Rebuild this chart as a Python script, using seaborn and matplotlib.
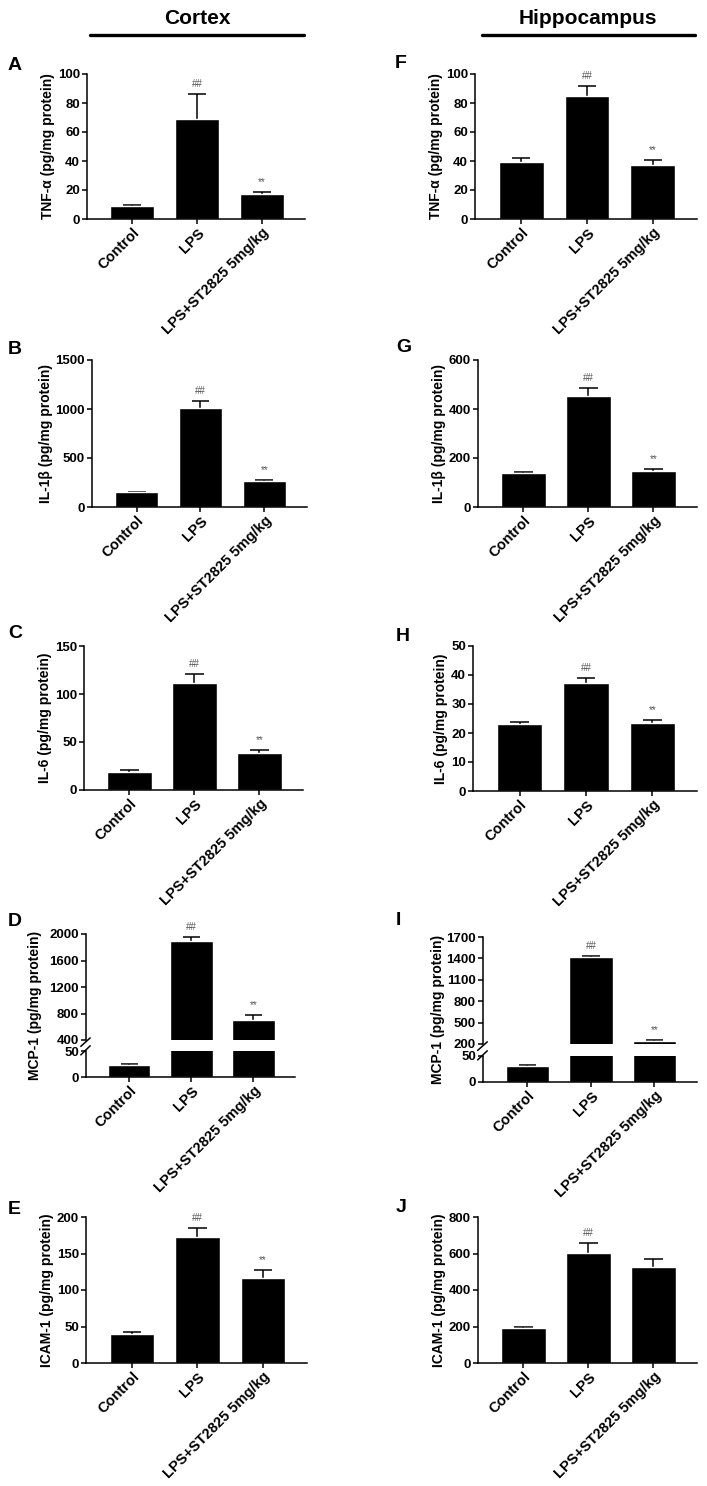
import numpy as np
import matplotlib
matplotlib.use("Agg")
import matplotlib.pyplot as plt
from matplotlib.lines import Line2D
import seaborn as sns

# Figure settings
W_PX, H_PX = 707, 1486
FIG_DPI = 100
TICK_FONTSIZE = 9.5
XTICK_FONTSIZE = 10.5
LABEL_FONTSIZE = 10
LETTER_FONTSIZE = 14
TITLE_FONTSIZE = 15
BAR_WIDTH = 0.68
CAP_HALF = 0.14
LINE_W = 1.1

GROUPS = ["Control", "LPS", "LPS+ST2825 5mg/kg"]

# Cortex: mean and SEM (pg/mg protein)
CTX_TNF = [9, 69, 17.5]
CTX_TNF_SEM = [1, 17, 1]
CTX_IL1B = [150, 1012, 262]
CTX_IL1B_SEM = [6, 72, 18]
CTX_IL6 = [19, 111, 39]
CTX_IL6_SEM = [1.5, 10, 3]
CTX_MCP1 = [24, 1900, 697]
CTX_MCP1_SEM = [1, 60, 85]
CTX_ICAM1 = [40, 173, 117]
CTX_ICAM1_SEM = [3, 12, 10]

# Hippocampus
HIP_TNF = [39, 85, 37.5]
HIP_TNF_SEM = [3, 7, 3]
HIP_IL1B = [140, 455, 145]
HIP_IL1B_SEM = [4, 32, 9]
HIP_IL6 = [23, 37.4, 23.3]
HIP_IL6_SEM = [0.9, 1.6, 1.2]
HIP_MCP1 = [31, 1420, 245]
HIP_MCP1_SEM = [1, 10, 15]
HIP_ICAM1 = [190, 603, 525]
HIP_ICAM1_SEM = [6, 57, 45]

# significance marks above each bar
MARKS = ["", "##", "**"]
MARKS_NO_STAR = ["", "##", ""]

sns.set_style("ticks")
plt.rcParams["font.family"] = ["Liberation Sans", "DejaVu Sans"]
plt.rcParams["font.weight"] = "bold"
plt.rcParams["axes.labelweight"] = "bold"
for key in ["text.color", "axes.labelcolor", "xtick.color", "ytick.color",
            "axes.edgecolor"]:
    plt.rcParams[key] = "black"


def px_axes(fig, left, top, right, bottom):
    """Add axes placed with pixel coordinates (origin top-left)."""
    return fig.add_axes([left / W_PX, 1 - bottom / H_PX,
                         (right - left) / W_PX, (bottom - top) / H_PX])


def style_axes(ax):
    sns.despine(ax=ax)
    for side in ["left", "bottom"]:
        ax.spines[side].set_linewidth(LINE_W)
    ax.tick_params(direction="out", length=3.5, width=LINE_W, pad=1.5,
                   colors="black")
    ax.tick_params(axis="y", labelsize=TICK_FONTSIZE)
    for lab in ax.get_yticklabels():
        lab.set_fontweight("bold")


def draw_bars(ax, means, sems, marks):
    sns.barplot(x=GROUPS, y=means, color="black", saturation=1,
                width=BAR_WIDTH, errorbar=None, ax=ax, zorder=2)
    # upper SEM only: stem + top cap
    x = np.arange(len(means))
    top = np.asarray(means) + np.asarray(sems)
    ax.vlines(x, means, top, color="black", lw=LINE_W, zorder=1)
    ax.hlines(top, x - CAP_HALF, x + CAP_HALF, color="black", lw=LINE_W,
              zorder=1)
    for i, (t, mark) in enumerate(zip(top, marks)):
        if mark:
            ax.annotate(mark, (i, t), xytext=(0, 3.5),
                        textcoords="offset points", ha="center", va="bottom",
                        fontsize=7, color="#555555", fontweight="normal",
                        annotation_clip=True)
    ax.set_xlim(-0.7, 2.67)


def set_xlabels(ax):
    ax.set_xticks(range(len(GROUPS)))
    ax.set_xticklabels(GROUPS, rotation=45, ha="right", va="top",
                       rotation_mode="anchor", fontsize=XTICK_FONTSIZE,
                       fontweight="bold")


def simple_panel(fig, box, means, sems, marks, ylim, yticks, ylabel):
    ax = px_axes(fig, *box)
    draw_bars(ax, means, sems, marks)
    ax.set_ylim(*ylim)
    ax.set_yticks(yticks)
    set_xlabels(ax)
    ax.set_ylabel(ylabel, fontsize=LABEL_FONTSIZE, fontweight="bold",
                  labelpad=2)
    style_axes(ax)
    return ax


def broken_panel(fig, box_top, box_low, means, sems, marks,
                 ylim_top, yticks_top, ylim_low, yticks_low, ylabel, label_x):
    ax_top = px_axes(fig, *box_top)
    ax_low = px_axes(fig, *box_low)
    for ax in (ax_top, ax_low):
        draw_bars(ax, means, sems, marks)
        style_axes(ax)
    ax_top.set_ylim(*ylim_top)
    ax_top.set_yticks(yticks_top)
    ax_top.spines["bottom"].set_visible(False)
    ax_top.set_xticks([])
    ax_top.set_xlabel("")
    ax_low.set_ylim(*ylim_low)
    ax_low.set_yticks(yticks_low)
    set_xlabels(ax_low)
    for lab in ax_top.get_yticklabels() + ax_low.get_yticklabels():
        lab.set_fontweight("bold")

    # break marks on the y axis
    kw = dict(color="black", lw=LINE_W, clip_on=False)
    ax_top.plot([-0.025, 0.02], [-0.06, 0.02], transform=ax_top.transAxes, **kw)
    ax_low.plot([-0.025, 0.02], [0.85, 1.2], transform=ax_low.transAxes, **kw)

    y_mid = (box_top[1] + box_low[3]) / 2
    fig.text(label_x / W_PX, 1 - y_mid / H_PX, ylabel, rotation=90,
             ha="center", va="center", fontsize=LABEL_FONTSIZE,
             fontweight="bold")


def main():
    fig = plt.figure(figsize=(W_PX / FIG_DPI, H_PX / FIG_DPI), dpi=FIG_DPI)

    # Column headings
    fig.text(197 / W_PX, 1 - 18 / H_PX, "Cortex", ha="center", va="center",
             fontsize=TITLE_FONTSIZE, fontweight="bold")
    fig.text(588 / W_PX, 1 - 18 / H_PX, "Hippocampus", ha="center",
             va="center", fontsize=TITLE_FONTSIZE, fontweight="bold")
    for x0, x1 in [(90, 304), (482, 695)]:
        fig.add_artist(Line2D([x0 / W_PX, x1 / W_PX],
                              [1 - 35 / H_PX, 1 - 35 / H_PX],
                              transform=fig.transFigure, color="black", lw=2.4))

    tnf_label = "TNF-α (pg/mg protein)"
    il1_label = "IL-1β (pg/mg protein)"
    il6_label = "IL-6 (pg/mg protein)"
    mcp_label = "MCP-1 (pg/mg protein)"
    icam_label = "ICAM-1 (pg/mg protein)"

    # Cortex column
    simple_panel(fig, (87, 74, 305, 219), CTX_TNF, CTX_TNF_SEM, MARKS,
                 (0, 100), range(0, 101, 20), tnf_label)
    simple_panel(fig, (92, 360, 307, 507), CTX_IL1B, CTX_IL1B_SEM, MARKS,
                 (0, 1500), range(0, 1501, 500), il1_label)
    simple_panel(fig, (84, 646, 303, 790), CTX_IL6, CTX_IL6_SEM, MARKS,
                 (0, 150), range(0, 151, 50), il6_label)
    broken_panel(fig, (86, 934, 295, 1040), (86, 1051, 295, 1077),
                 CTX_MCP1, CTX_MCP1_SEM, MARKS,
                 (400, 2000), range(400, 2001, 400), (0, 50), [0, 50],
                 mcp_label, 35)
    simple_panel(fig, (86, 1217, 307, 1363), CTX_ICAM1, CTX_ICAM1_SEM, MARKS,
                 (0, 200), range(0, 201, 50), icam_label)

    # Hippocampus column
    simple_panel(fig, (475, 74, 697, 219), HIP_TNF, HIP_TNF_SEM, MARKS,
                 (0, 100), range(0, 101, 20), tnf_label)
    simple_panel(fig, (478, 360, 697, 507), HIP_IL1B, HIP_IL1B_SEM, MARKS,
                 (0, 600), range(0, 601, 200), il1_label)
    simple_panel(fig, (473, 646, 697, 791), HIP_IL6, HIP_IL6_SEM, MARKS,
                 (0, 50), range(0, 51, 10), il6_label)
    broken_panel(fig, (483, 937, 697, 1044), (483, 1056, 697, 1082),
                 HIP_MCP1, HIP_MCP1_SEM, MARKS,
                 (200, 1700), range(200, 1701, 300), (0, 50), [0, 50],
                 mcp_label, 438)
    simple_panel(fig, (478, 1217, 697, 1363), HIP_ICAM1, HIP_ICAM1_SEM,
                 MARKS_NO_STAR, (0, 800), range(0, 801, 200), icam_label)

    # Panel letters
    letters = [("A", 8, 66), ("B", 8, 349), ("C", 8, 634), ("D", 8, 922),
               ("E", 8, 1210), ("F", 395, 64), ("G", 396, 347),
               ("H", 396, 636), ("I", 396, 920), ("J", 396, 1207)]
    for letter, x, y in letters:
        fig.text(x / W_PX, 1 - y / H_PX, letter, ha="left", va="center",
                 fontsize=LETTER_FONTSIZE, fontweight="bold")

    fig.savefig("out.png", dpi=FIG_DPI)


if __name__ == "__main__":
    main()
